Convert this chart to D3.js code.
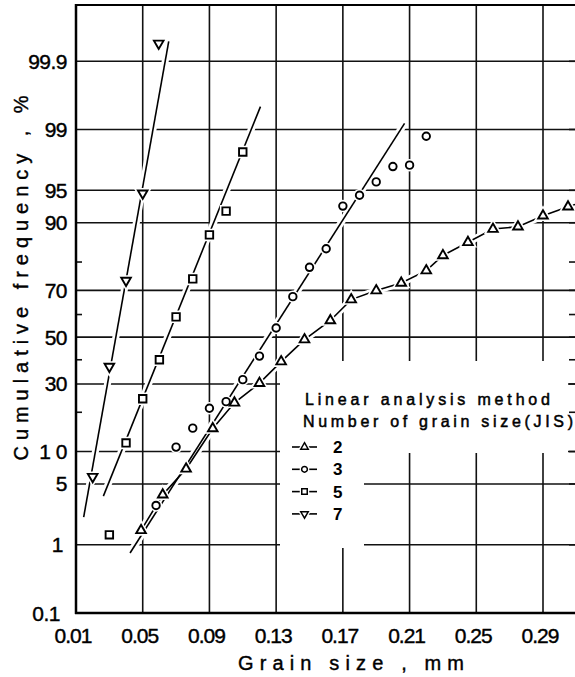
<!DOCTYPE html>
<html><head><meta charset="utf-8">
<script src="https://cdn.jsdelivr.net/npm/d3@7"></script>
<style>body{margin:0;background:#fff}svg{display:block}</style>
</head><body><svg id="c" width="575" height="677"></svg>
<script>
// ---------- data ----------
const xTicks = [0.01, 0.05, 0.09, 0.13, 0.17, 0.21, 0.25, 0.29];
const xTickLabels = ["0.01", "0.05", "0.09", "0.13", "0.17", "0.21", "0.25", "0.29"];
const yTicks = [0.1, 1, 5, 10, 30, 50, 70, 90, 95, 99, 99.9];
const yTickLabels = ["0.1", "1", "5", "1 0", "30", "50", "70", "90", "95", "99", "99.9"];
const yMinorTicks = [20, 40, 60, 80];

// JIS grain size number 2 (triangles up)
const s2x = [0.049, 0.062, 0.076, 0.092, 0.105, 0.12, 0.133, 0.147, 0.1625, 0.175, 0.19, 0.205, 0.22, 0.23, 0.245, 0.26, 0.275, 0.29, 0.305];
const s2y = [1.52, 3.87, 7.0, 15.3, 23.1, 30.3, 39.2, 48.9, 57.4, 66.3, 69.9, 72.8, 77.2, 82.0, 85.6, 88.7, 89.2, 91.3, 92.8];
const s2TailX = [0.305, 0.31];
const s2TailY = [92.8, 93.2];
// number 3 (circles)
const s3x = [0.058, 0.07, 0.08, 0.09, 0.10, 0.11, 0.12, 0.13, 0.14, 0.15, 0.16, 0.17, 0.18, 0.19, 0.20, 0.21, 0.22];
const s3y = [2.97, 10.9, 15.4, 21.3, 23.5, 31.7, 41.6, 54.1, 67.5, 78.3, 83.9, 92.9, 94.4, 95.9, 97.2, 97.3, 98.78];
const s3FitX = [0.0424, 0.207];
const s3FitY = [0.78, 99.17];
// number 5 (squares)
const s5x = [0.03, 0.04, 0.05, 0.06, 0.07, 0.08, 0.09, 0.10, 0.11];
const s5y = [1.34, 11.8, 24.5, 40, 59, 74.3, 87.4, 92.1, 98.1];
const s5FitX = [0.0264, 0.1206];
const s5FitY = [3.75, 99.51];
// number 7 (triangles down)
const s7x = [0.02, 0.03, 0.04, 0.05, 0.0596];
const s7y = [5.9, 37.1, 73.7, 94.65, 99.95];
const s7FitX = [0.0146, 0.0656];
const s7FitY = [2.19, 99.954];

const legendTitle1 = "Linear analysis method";
const legendTitle2 = "Number  of grain size(JIS)";
const legendLabels = ["2", "3", "5", "7"];
const xTitle = "Grain  size  ,  mm";
const yTitle = "Cumulative  frequency  ,   %";

// ---------- probability transform ----------
function probit(p) {
  const a = [-3.969683028665376e+01, 2.209460984245205e+02, -2.759285104469687e+02, 1.383577518672690e+02, -3.066479806614716e+01, 2.506628277459239e+00];
  const b = [-5.447609879822406e+01, 1.615858368580409e+02, -1.556989798598866e+02, 6.680131188771972e+01, -1.328068155288572e+01];
  const c = [-7.784894002430293e-03, -3.223964580411365e-01, -2.400758277161838e+00, -2.549732539343734e+00, 4.374664141464968e+00, 2.938163982698783e+00];
  const d = [7.784695709041462e-03, 3.224671290700398e-01, 2.445134137142996e+00, 3.754408661907416e+00];
  const pl = 0.02425, ph = 1 - pl;
  let q, r;
  if (p < pl) { q = Math.sqrt(-2 * Math.log(p)); return (((((c[0]*q+c[1])*q+c[2])*q+c[3])*q+c[4])*q+c[5]) / ((((d[0]*q+d[1])*q+d[2])*q+d[3])*q+1); }
  if (p <= ph) { q = p - 0.5; r = q*q; return (((((a[0]*r+a[1])*r+a[2])*r+a[3])*r+a[4])*r+a[5])*q / (((((b[0]*r+b[1])*r+b[2])*r+b[3])*r+b[4])*r+1); }
  q = Math.sqrt(-2 * Math.log(1 - p));
  return -(((((c[0]*q+c[1])*q+c[2])*q+c[3])*q+c[4])*q+c[5]) / ((((d[0]*q+d[1])*q+d[2])*q+d[3])*q+1);
}

const svg = d3.select("#c");
const L = 76, R = 575, T = 5, B = 613;
const x = d3.scaleLinear().domain([0.01, 0.29]).range([L, 543]);
const zScale = d3.scaleLinear().domain([probit(0.001), probit(0.999)]).range([B, 61.3]);
const y = pct => zScale(probit(pct / 100));

const FONT = "'Liberation Sans', Arial, sans-serif";

// ---------- grid ----------
const grid = svg.append("g").attr("stroke", "#111").attr("stroke-width", 1.6);
xTicks.slice(1).forEach(v => {
  grid.append("line").attr("x1", x(v)).attr("x2", x(v)).attr("y1", T).attr("y2", B);
});
yTicks.slice(1).forEach(v => {
  grid.append("line").attr("x1", L).attr("x2", R).attr("y1", y(v)).attr("y2", y(v));
});
// legend mask (grid is interrupted behind the legend)
const mask = svg.append("g").attr("fill", "#fff");
mask.append("rect").attr("x", 280).attr("y", 361).attr("width", 288).attr("height", 92);
mask.append("rect").attr("x", 280).attr("y", 452).attr("width", 84).attr("height", 96);

// minor ticks left & right, right stubs
const ticks = svg.append("g").attr("stroke", "#111").attr("stroke-width", 1.6);
yMinorTicks.forEach(v => {
  ticks.append("line").attr("x1", L).attr("x2", L + 6).attr("y1", y(v)).attr("y2", y(v));
});
yMinorTicks.concat(yTicks.slice(1)).forEach(v => {
  ticks.append("line").attr("x1", R - 6).attr("x2", R).attr("y1", y(v)).attr("y2", y(v));
});

// ---------- frame ----------
const frame = svg.append("g").attr("stroke", "#000").attr("fill", "none");
frame.append("line").attr("x1", L).attr("x2", R).attr("y1", T).attr("y2", T).attr("stroke-width", 2);
frame.append("line").attr("x1", L).attr("x2", L).attr("y1", T - 1).attr("y2", B + 1).attr("stroke-width", 2.5);
frame.append("line").attr("x1", L - 1).attr("x2", R).attr("y1", B).attr("y2", B).attr("stroke-width", 2.5);

// ---------- data lines ----------
const line = d3.line().x(d => x(d[0])).y(d => y(d[1]));
const zip = (a, b) => a.map((v, i) => [v, b[i]]);
const lineSets = [
  zip(s7FitX, s7FitY),
  zip(s5FitX, s5FitY),
  zip(s3FitX, s3FitY),
  zip(s2x, s2y).concat(zip(s2TailX, s2TailY).slice(1))
];
const dl = svg.append("g").attr("fill", "none");
lineSets.forEach(ls => dl.append("path").attr("d", line(ls)).attr("stroke", "#fff").attr("stroke-width", 7));
lineSets.forEach(ls => dl.append("path").attr("d", line(ls)).attr("stroke", "#000").attr("stroke-width", 1.6));

// ---------- markers ----------
const symTri = d3.symbol().type(d3.symbolTriangle).size(40);
const symCirc = d3.symbol().type(d3.symbolCircle).size(44);
const symSq = d3.symbol().type(d3.symbolSquare).size(56);
const series = [
  {xs: s2x, ys: s2y, sym: symTri, rot: 0},
  {xs: s3x, ys: s3y, sym: symCirc, rot: 0},
  {xs: s5x, ys: s5y, sym: symSq, rot: 0},
  {xs: s7x, ys: s7y, sym: symTri, rot: 180}
];
const mk = svg.append("g");
series.forEach(s => {
  s.xs.forEach((xv, i) => {
    const tr = `translate(${x(xv)},${y(s.ys[i])}) rotate(${s.rot})`;
    mk.append("path").attr("d", s.sym()).attr("transform", tr).attr("fill", "#fff").attr("stroke", "#fff").attr("stroke-width", 5);
  });
});
series.forEach(s => {
  s.xs.forEach((xv, i) => {
    const tr = `translate(${x(xv)},${y(s.ys[i])}) rotate(${s.rot})`;
    mk.append("path").attr("d", s.sym()).attr("transform", tr).attr("fill", "#fff").attr("stroke", "#000").attr("stroke-width", 1.9);
  });
});

// ---------- tick labels ----------
const tl = svg.append("g").attr("font-family", FONT).attr("font-size", 21).attr("fill", "#000")
  .attr("stroke", "#000").attr("stroke-width", 0.4);
xTicks.forEach((v, i) => {
  tl.append("text").attr("x", x(v) - 3).attr("y", 643).attr("text-anchor", "middle")
    .attr("letter-spacing", -1).text(xTickLabels[i]);
});
yTicks.forEach((v, i) => {
  tl.append("text").attr("x", v === 0.1 ? 60 : (v === 1 ? 63 : 67)).attr("y", y(v) + 7.5).attr("text-anchor", "end")
    .attr("letter-spacing", -0.5).text(yTickLabels[i]);
});

// ---------- axis titles ----------
svg.append("text").attr("font-family", FONT).attr("font-size", 20)
  .attr("stroke", "#000").attr("stroke-width", 0.4)
  .attr("x", 351).attr("y", 670).attr("text-anchor", "middle")
  .attr("textLength", 226).attr("lengthAdjust", "spacing").text(xTitle);
svg.append("text").attr("font-family", FONT).attr("font-size", 20)
  .attr("stroke", "#000").attr("stroke-width", 0.4)
  .attr("transform", "translate(28,278) rotate(-90)").attr("text-anchor", "middle")
  .attr("textLength", 365).attr("lengthAdjust", "spacing").text(yTitle);

// ---------- legend ----------
const lg = svg.append("g").attr("font-family", FONT).attr("fill", "#000");
lg.append("text").attr("x", 305).attr("y", 405).attr("font-size", 16).attr("stroke", "#000").attr("stroke-width", 0.5)
  .attr("textLength", 245).attr("lengthAdjust", "spacing").text(legendTitle1);
lg.append("text").attr("x", 303).attr("y", 427).attr("font-size", 16).attr("stroke", "#000").attr("stroke-width", 0.5)
  .attr("textLength", 270).attr("lengthAdjust", "spacing").text(legendTitle2);
const legSyms = [
  {sym: d3.symbol().type(d3.symbolTriangle).size(24), rot: 0},
  {sym: d3.symbol().type(d3.symbolCircle).size(26), rot: 0},
  {sym: d3.symbol().type(d3.symbolSquare).size(30), rot: 0},
  {sym: d3.symbol().type(d3.symbolTriangle).size(24), rot: 180}
];
legendLabels.forEach((lab, i) => {
  const by = 453 + i * 22.3;
  const cy = by - 6;
  lg.append("line").attr("x1", 292).attr("x2", 317).attr("y1", cy).attr("y2", cy).attr("stroke", "#000").attr("stroke-width", 1.6);
  lg.append("path").attr("d", legSyms[i].sym()).attr("transform", `translate(304.5,${cy}) rotate(${legSyms[i].rot})`)
    .attr("fill", "#fff").attr("stroke", "#fff").attr("stroke-width", 4);
  lg.append("path").attr("d", legSyms[i].sym()).attr("transform", `translate(304.5,${cy}) rotate(${legSyms[i].rot})`)
    .attr("fill", "#fff").attr("stroke", "#000").attr("stroke-width", 1.5);
  lg.append("text").attr("x", 333).attr("y", by).attr("font-size", 17).attr("font-weight", "bold").text(lab);
});
</script>
</body></html>
